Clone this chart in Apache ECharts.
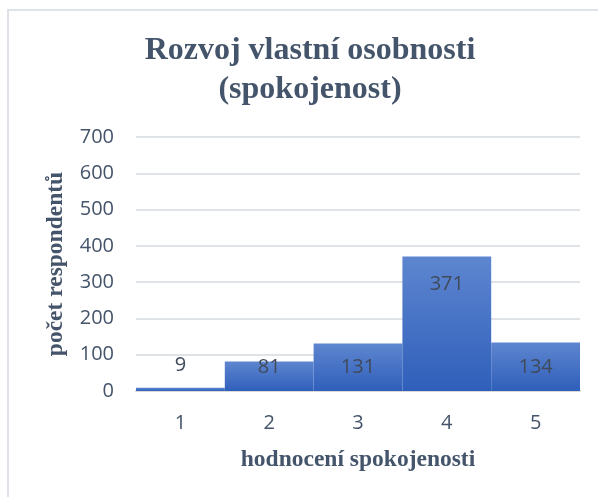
<!DOCTYPE html>
<html>
<head>
<meta charset="utf-8">
<script src="https://cdn.jsdelivr.net/npm/echarts@6/dist/echarts.min.js"></script>
<style>
html,body{margin:0;padding:0;background:#fff;}
#chart{width:598px;height:497px;}
</style>
</head>
<body>
<div id="chart"></div>
<script>
const titleText = 'Rozvoj vlastní osobnosti\n(spokojenost)';
const categories = ['1', '2', '3', '4', '5'];
const values = [9, 81, 131, 371, 134];
const xAxisName = 'hodnocení spokojenosti';
const yAxisName = 'počet respondentů';

// label vertical offsets (px from bar top), styling only
const labelOffsets = [-22, 6, 24, 28, 25];

const chart = echarts.init(document.getElementById('chart'), null, {renderer: 'canvas'});
const textColor = '#44546a';
const serif = '"Liberation Serif", "DejaVu Serif", serif';
const sans = '"Open Sans", "Liberation Sans", sans-serif';

const option = {
  backgroundColor: '#ffffff',
  animation: false,
  title: {
    text: titleText,
    left: 305,
    top: 26,
    textAlign: 'center',
    textStyle: {
      fontFamily: serif,
      fontWeight: 'bold',
      fontSize: 32,
      lineHeight: 39,
      color: textColor
    }
  },
  graphic: [{
    type: 'polyline',
    shape: {points: [[8, 497], [8, 10], [598, 10]]},
    style: {stroke: '#dee3ea', lineWidth: 2, fill: null},
    silent: true
  }],
  grid: {left: 136, right: 18, top: 137, bottom: 106, containLabel: false},
  xAxis: {
    type: 'category',
    data: categories,
    name: xAxisName,
    nameLocation: 'middle',
    nameGap: 57,
    nameTextStyle: {fontFamily: serif, fontWeight: 'bold', fontSize: 23.5, color: textColor},
    axisLine: {show: true, lineStyle: {color: '#d9d9d9', width: 2}},
    axisTick: {show: false},
    axisLabel: {fontFamily: sans, fontSize: 20, color: textColor, margin: 22}
  },
  yAxis: {
    type: 'value',
    min: 0,
    max: 700,
    interval: 100,
    name: yAxisName,
    nameLocation: 'middle',
    nameRotate: 90,
    nameGap: 68,
    nameTextStyle: {fontFamily: serif, fontWeight: 'bold', fontSize: 23.5, color: textColor},
    axisLine: {show: false},
    axisTick: {show: false},
    axisLabel: {fontFamily: sans, fontSize: 20, color: textColor, margin: 22},
    splitLine: {lineStyle: {color: '#dfe3e8', width: 2}}
  },
  series: [{
    type: 'bar',
    barCategoryGap: 0,
    data: values.map((v, i) => ({
      value: v,
      label: {
        show: true,
        position: ['50%', labelOffsets[i]],
        align: 'center',
        verticalAlign: 'middle',
        fontFamily: sans,
        fontSize: 20,
        color: '#404a5a'
      }
    })),
    itemStyle: {
      color: new echarts.graphic.LinearGradient(0, 0, 0, 1, [
        {offset: 0, color: '#5e86d0'},
        {offset: 1, color: '#2f5fba'}
      ])
    }
  }]
};
chart.setOption(option);
</script>
</body>
</html>
